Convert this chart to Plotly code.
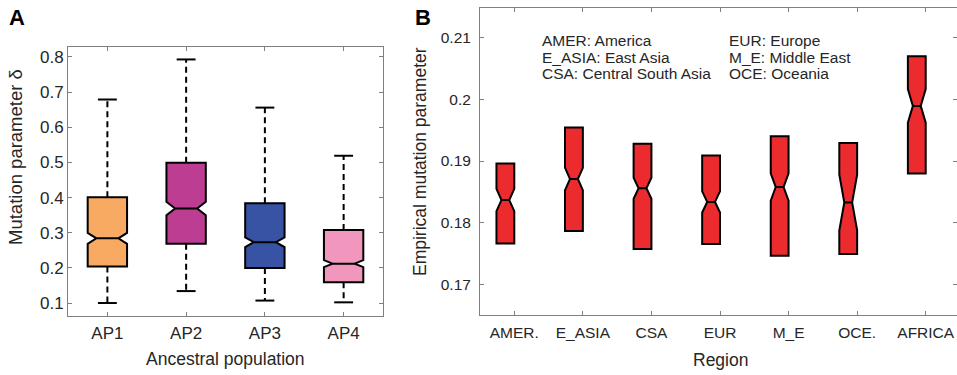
import plotly.graph_objects as go

W, H = 957, 375

# ---------------- Panel A data ----------------
ap_labels = ["AP1", "AP2", "AP3", "AP4"]
ap_lower = [0.100, 0.134, 0.107, 0.102]
ap_q1 = [0.204, 0.269, 0.200, 0.159]
ap_median = [0.284, 0.369, 0.273, 0.212]
ap_q3 = [0.401, 0.499, 0.384, 0.308]
ap_upper = [0.679, 0.793, 0.656, 0.519]
ap_notch = [0.0155, 0.019, 0.014, 0.010]
ap_colors = ["#F8AA63", "#BC3D92", "#3953A4", "#F197BE"]
ap_yticks = [0.1, 0.2, 0.3, 0.4, 0.5, 0.6, 0.7, 0.8]
ap_yticktext = ["0.1", "0.2", "0.3", "0.4", "0.5", "0.6", "0.7", "0.8"]

# ---------------- Panel B data ----------------
regions = ["AMER.", "E_ASIA", "CSA", "EUR", "M_E", "OCE.", "AFRICA"]
rg_q1 = [0.1767, 0.1787, 0.1758, 0.1766, 0.1747, 0.1750, 0.1880]
rg_median = [0.1837, 0.1871, 0.1856, 0.1834, 0.1858, 0.1833, 0.1989]
rg_q3 = [0.1896, 0.1954, 0.1928, 0.1909, 0.1940, 0.1929, 0.2069]
rg_notch = [0.0018, 0.0018, 0.0017, 0.0017, 0.0022, 0.0045, 0.0027]
rg_yticks = [0.17, 0.18, 0.19, 0.20, 0.21]
rg_yticktext = ["0.17", "0.18", "0.19", "0.2", "0.21"]
legend_col1 = ["AMER: America", "E_ASIA: East Asia", "CSA: Central South Asia"]
legend_col2 = ["EUR: Europe", "M_E: Middle East", "OCE: Oceania"]

FONT = "Liberation Sans, Arial, Helvetica, sans-serif"
TXT = "#262626"
AX = "#808080"

def px(x):
    return x / W

def py(y):
    return 1 - y / H

fig = go.Figure()

# Panel A boxes
for i, lab in enumerate(ap_labels):
    pos = i + 1
    fig.add_trace(go.Box(
        x=[pos], q1=[ap_q1[i]], median=[ap_median[i]], q3=[ap_q3[i]],
        lowerfence=[ap_q1[i]], upperfence=[ap_q3[i]], notchspan=[ap_notch[i]],
        notched=True, notchwidth=0.22, width=0.5, whiskerwidth=0,
        fillcolor=ap_colors[i], line=dict(color="black", width=2),
        boxpoints=False, showlegend=False, hoverinfo="skip",
        xaxis="x", yaxis="y"))

# Panel A dashed whiskers
wx, wy = [], []
for i in range(len(ap_labels)):
    pos = i + 1
    wx += [pos, pos, None, pos, pos, None]
    wy += [ap_q3[i], ap_upper[i], None, ap_q1[i], ap_lower[i], None]
fig.add_trace(go.Scatter(
    x=wx, y=wy, mode="lines", line=dict(color="black", width=2, dash="6px,4px"),
    showlegend=False, hoverinfo="skip", xaxis="x", yaxis="y"))

# Panel A whisker caps
cx, cy = [], []
for i in range(len(ap_labels)):
    cx += [i + 1, i + 1]
    cy += [ap_upper[i], ap_lower[i]]
fig.add_trace(go.Scatter(
    x=cx, y=cy, mode="markers",
    marker=dict(symbol="line-ew", size=13.5, line=dict(color="black", width=2)),
    showlegend=False, hoverinfo="skip", xaxis="x", yaxis="y"))

# Panel B boxes (slightly left of their ticks as in the original)
b_offset = -0.13
fig.add_trace(go.Box(
    x=[i + 1 + b_offset for i in range(len(regions))],
    q1=rg_q1, median=rg_median, q3=rg_q3,
    lowerfence=rg_q1, upperfence=rg_q3, notchspan=rg_notch,
    notched=True, notchwidth=0.28, width=0.26, whiskerwidth=0,
    fillcolor="#EC2B2F", line=dict(color="black", width=2),
    boxpoints=False, showlegend=False, hoverinfo="skip",
    xaxis="x2", yaxis="y2"))

axis_common = dict(
    showline=True, linecolor=AX, linewidth=1, mirror="ticks",
    ticks="inside", ticklen=4, tickcolor=AX, tickwidth=1,
    showgrid=False, zeroline=False,
)

fig.update_layout(
    width=W, height=H, autosize=False,
    margin=dict(l=0, r=0, t=0, b=0),
    paper_bgcolor="white", plot_bgcolor="white",
    font=dict(family=FONT, color=TXT),
    xaxis=dict(domain=[px(68), px(383)], range=[0.5, 4.5],
               tickvals=[i + 1 for i in range(len(ap_labels))], ticktext=ap_labels,
               tickfont=dict(size=17, color=TXT), ticklabelstandoff=2,
               anchor="y", **axis_common),
    yaxis=dict(domain=[py(316), py(47)], range=[0.0631, 0.8284],
               tickvals=ap_yticks, ticktext=ap_yticktext,
               tickfont=dict(size=17, color=TXT), anchor="x", **axis_common),
    xaxis2=dict(domain=[px(480), 1.0], range=[0.5, 7.5 - 3 / 68.6],
                tickvals=[i + 1 for i in range(len(regions))], ticktext=regions,
                tickfont=dict(size=15.5, color=TXT), ticklabelstandoff=3,
                anchor="y2", **axis_common),
    yaxis2=dict(domain=[py(315.3), py(8)], range=[0.1651, 0.2147],
                tickvals=rg_yticks, ticktext=rg_yticktext,
                tickfont=dict(size=15.5, color=TXT), ticklabelstandoff=5,
                anchor="x2", **axis_common),
)

ann = []
# panel letters
ann.append(dict(text="<b>A</b>", x=px(7), y=py(17.5), xanchor="left", yanchor="middle",
                font=dict(size=22, color="black", family=FONT)))
ann.append(dict(text="<b>B</b>", x=px(413), y=py(17.5), xanchor="left", yanchor="middle",
                font=dict(size=22, color="black", family=FONT)))
# axis titles
ann.append(dict(text="Ancestral population", x=px(225), y=py(359), xanchor="center", yanchor="middle",
                font=dict(size=17.5, color=TXT)))
ann.append(dict(text="Mutation parameter δ", x=px(15), y=py(157), xanchor="center", yanchor="middle",
                textangle=-90, font=dict(size=18.5, color=TXT)))
ann.append(dict(text="Region", x=px(720), y=py(360), xanchor="center", yanchor="middle",
                font=dict(size=17.5, color=TXT)))
ann.append(dict(text="Empirical mutation parameter", x=px(420), y=py(162), xanchor="center", yanchor="middle",
                textangle=-90, font=dict(size=17.5, color=TXT)))
# region key
line_y = [40, 57, 73.7]
for k, t in enumerate(legend_col1):
    ann.append(dict(text=t, x=px(540), y=py(line_y[k]), xanchor="left", yanchor="middle",
                    font=dict(size=15.5, color=TXT)))
for k, t in enumerate(legend_col2):
    ann.append(dict(text=t, x=px(726.5), y=py(line_y[k]), xanchor="left", yanchor="middle",
                    font=dict(size=15.5, color=TXT)))
for a in ann:
    a.update(xref="paper", yref="paper", showarrow=False)
fig.update_layout(annotations=ann)

fig.write_html("out.html")
